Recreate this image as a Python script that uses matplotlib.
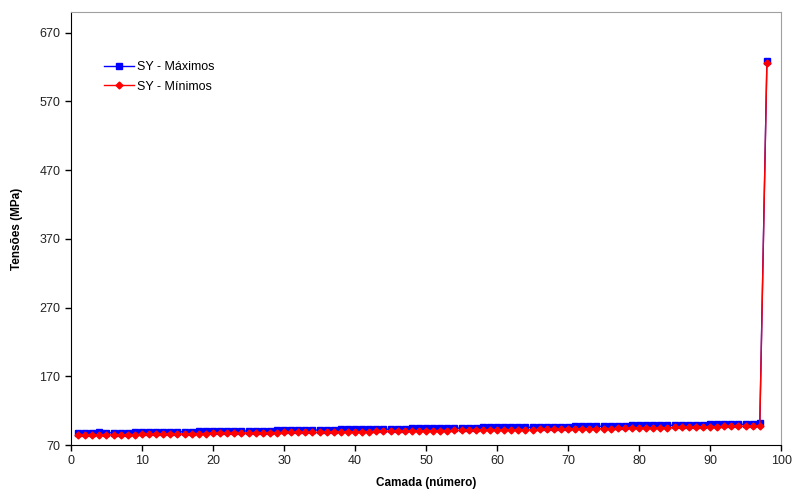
import matplotlib.pyplot as plt

plt.rcParams['font.family'] = ['Liberation Sans', 'DejaVu Sans']

# camada (layer) numbers
camada = list(range(1, 99))

# SY - Maximos (MPa)
sy_max = [87.2, 87.4, 87.3, 88.6, 87.6, 88.0, 88.2, 88.1, 88.3, 88.4,
          88.5, 88.6, 88.4, 89.5, 88.8, 89.6, 89.0, 89.8, 89.9, 90.0,
          90.1, 90.2, 90.1, 90.3, 90.4, 91.0, 90.5, 90.6, 91.4, 91.6,
          91.6, 91.7, 91.6, 91.7, 91.8, 91.8, 91.9, 92.6, 92.6, 92.7,
          92.7, 92.8, 92.8, 92.9, 92.9, 93.0, 93.0, 94.2, 94.3, 94.3,
          94.3, 94.4, 94.4, 94.5, 94.5, 94.6, 94.6, 95.5, 95.6, 95.6,
          95.7, 95.7, 95.8, 95.8, 95.9, 95.9, 96.0, 96.8, 96.9, 96.9,
          97.0, 97.0, 97.1, 97.1, 97.2, 97.2, 97.3, 98.3, 98.4, 98.4,
          98.5, 98.5, 98.6, 98.6, 98.7, 98.7, 99.7, 99.8, 99.8, 99.9,
          99.9, 100.0, 100.0, 100.1, 100.1, 101.3, 101.5, 629.0]

# SY - Minimos (MPa)
sy_min = [84.5, 84.6, 84.6, 84.8, 84.7, 84.9, 85.0, 85.1, 85.3, 85.4,
          85.5, 85.6, 85.7, 85.9, 86.0, 86.2, 86.3, 86.6, 86.7, 86.9,
          87.0, 87.1, 87.3, 87.4, 87.6, 87.7, 87.8, 88.0, 88.1, 88.3,
          88.4, 88.5, 88.5, 88.3, 88.4, 88.9, 89.0, 89.2, 89.3, 89.4,
          89.5, 89.6, 89.8, 89.9, 90.0, 90.1, 90.3, 90.5, 90.7, 90.8,
          90.9, 91.0, 91.1, 91.2, 91.3, 91.4, 91.6, 91.8, 91.9, 92.0,
          92.1, 92.2, 92.3, 92.4, 92.5, 92.6, 92.8, 93.0, 93.1, 93.3,
          93.4, 93.5, 93.6, 93.7, 93.8, 94.0, 94.2, 94.4, 94.6, 94.8,
          94.9, 95.0, 95.2, 95.4, 95.6, 95.8, 96.0, 96.2, 96.4, 96.6,
          96.8, 97.0, 97.1, 97.3, 97.4, 97.6, 97.8, 626.0]

x_ticks = list(range(0, 101, 10))
y_ticks = list(range(70, 671, 100))

fig = plt.figure(figsize=(7.93, 4.9), dpi=100)
ax = fig.add_axes([0.0895, 0.0918, 0.8955, 0.8837])

ax.plot(camada, sy_max, color='#0000ff', lw=1, marker='s', ms=4.5,
        label='SY - Máximos')
ax.plot(camada, sy_min, color='#ff0000', lw=1, marker='D', ms=3.5,
        label='SY - Mínimos')

ax.set_xlim(0, 100)
ax.set_ylim(70, 700)
ax.set_xticks(x_ticks)
ax.set_yticks(y_ticks)
ax.tick_params(labelsize=9, length=4, width=1, color='black', labelcolor='#222222')

for side in ['top', 'right']:
    ax.spines[side].set_color('#a0a0a0')
for side in ['left', 'bottom']:
    ax.spines[side].set_color('black')

ax.set_xlabel('Camada (número)', fontsize=8.5, fontweight='bold', labelpad=7)
ax.set_ylabel('Tensões (MPa)', fontsize=8.5, fontweight='bold', labelpad=12)

ax.legend(loc='upper left', bbox_to_anchor=(0.03, 0.912), frameon=False,
          fontsize=9, handlelength=2.4, handletextpad=0.3, labelspacing=0.6)

plt.savefig('out.png', dpi=100)
